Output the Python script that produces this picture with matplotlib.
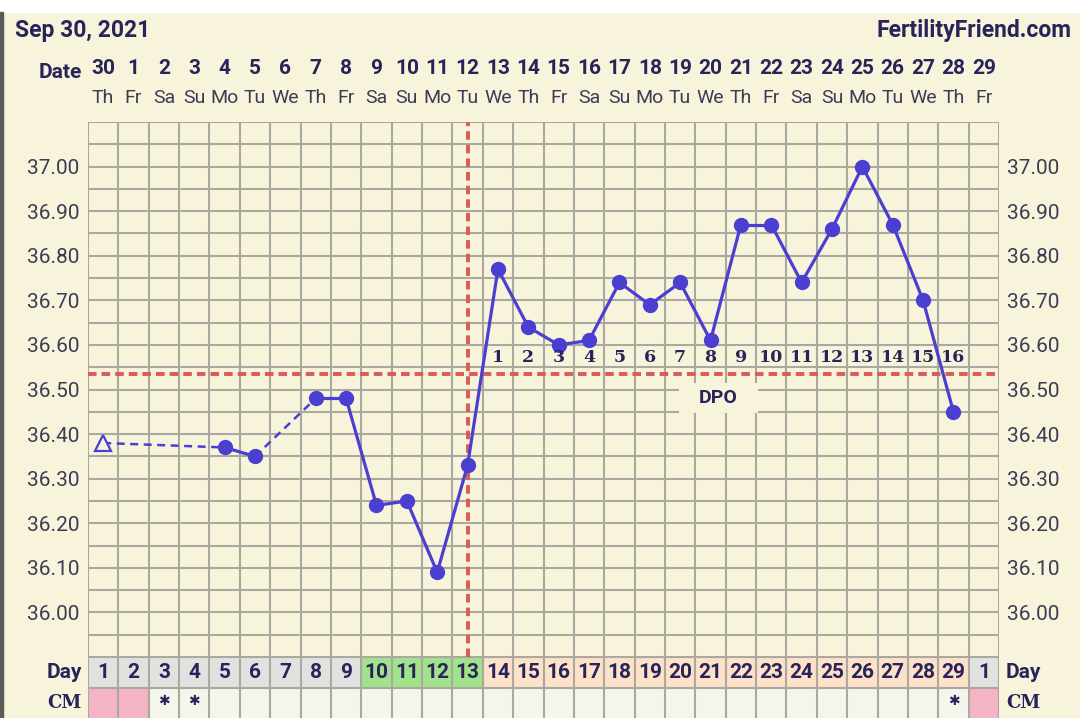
"""Fertility Friend style BBT chart, cycle starting Sep 30, 2021."""

import numpy as np
import matplotlib

matplotlib.use("Agg")
from matplotlib import patches, pyplot as plt
from matplotlib.transforms import blended_transform_factory

plt.rcParams["font.family"] = ["Roboto", "DejaVu Sans"]

# ---- data -----------------------------------------------------------------
dates = ["30", "1", "2", "3", "4", "5", "6", "7", "8", "9", "10", "11", "12",
         "13", "14", "15", "16", "17", "18", "19", "20", "21", "22", "23",
         "24", "25", "26", "27", "28", "29"]
weekdays = ["Th", "Fr", "Sa", "Su", "Mo", "Tu", "We", "Th", "Fr", "Sa", "Su",
            "Mo", "Tu", "We", "Th", "Fr", "Sa", "Su", "Mo", "Tu", "We", "Th",
            "Fr", "Sa", "Su", "Mo", "Tu", "We", "Th", "Fr"]
cycle_days = ["1", "2", "3", "4", "5", "6", "7", "8", "9", "10", "11", "12",
              "13", "14", "15", "16", "17", "18", "19", "20", "21", "22", "23",
              "24", "25", "26", "27", "28", "29", "1"]
temps = [36.38, None, None, None, 36.37, 36.35, None, 36.48, 36.48, 36.24,
         36.25, 36.09, 36.33, 36.77, 36.64, 36.60, 36.61, 36.74, 36.69, 36.74,
         36.61, 36.87, 36.87, 36.74, 36.86, 37.00, 36.87, 36.70, 36.45, None]
discarded_days = [1]
phases = (["other"] * 9 + ["fertile"] * 4 + ["luteal"] * 16 + ["other"])
cm_row = (["period", "period", "*", "*"] + [""] * 24 + ["*", "period"])
ovulation_day = 13
coverline = 36.535
dpo_labels = ["1", "2", "3", "4", "5", "6", "7", "8", "9", "10", "11", "12",
              "13", "14", "15", "16"]
temp_ticks = [36.00, 36.10, 36.20, 36.30, 36.40, 36.50, 36.60, 36.70, 36.80,
              36.90, 37.00]

# ---- styles ---------------------------------------------------------------
BG = "#f8f4dc"
GRID = "#aaa99f"
LINE = "#4b3fd2"
RED = "#dc5a55"
NAVY = "#28245a"
TICK = "#3d3b55"
PHASE_COLORS = {"other": "#e1e1df", "fertile": "#a2e28a", "luteal": "#fde1c8"}
CM_COLORS = {"period": "#f4b4c6"}
CM_PLAIN = "#f6f5ec"

W, H = 1080, 718
fig = plt.figure(figsize=(W / 100, H / 100), dpi=100)
fig.patch.set_facecolor(BG)
fig.patches.append(patches.Rectangle((0, 1 - 12 / H), 1, 12 / H,
                                     transform=fig.transFigure,
                                     color="white", zorder=0))
fig.patches.append(patches.Rectangle((0, 0), 3 / W, 1 - 12 / H,
                                     transform=fig.transFigure,
                                     color="#5a5a5a", zorder=0))

left, right = 88 / W, 999 / W
top_px, mid_px = 122, 657
ax = fig.add_axes([left, 1 - mid_px / H, right - left, (mid_px - top_px) / H])
ax.set_facecolor(BG)
n = len(dates)
days = np.arange(1, n + 1)
ax.set_xlim(0.5, n + 0.5)
ax.set_ylim(35.90, 37.10)
for s in ax.spines.values():
    s.set_visible(False)

# grid
for y in np.arange(35.90, 37.101, 0.05):
    ax.axhline(y, color=GRID, lw=1.5, zorder=1)
for x in np.arange(0.5, n + 1, 1.0):
    ax.axvline(x, color=GRID, lw=1.5, zorder=1)

ax.set_xticks([])
ax.set_yticks(temp_ticks)
ax.set_yticklabels([f"{t:.2f}" for t in temp_ticks])
ax.tick_params(axis="y", length=0, labelsize=15, labelcolor=TICK,
               labelleft=True, labelright=True, pad=6)

# coverline and ovulation line
ax.axhline(coverline, color=RED, lw=2.8, dashes=(2.2, 1.3), zorder=2)
ax.axvline(ovulation_day, color=RED, lw=2.8, dashes=(2.2, 1.3), zorder=2)

# temperatures
recorded = [(d, t) for d, t in zip(days, temps) if t is not None]
for (d0, t0), (d1, t1) in zip(recorded[:-1], recorded[1:]):
    solid = (d1 - d0 == 1) and d0 not in discarded_days
    if solid:
        ax.plot([d0, d1], [t0, t1], color=LINE, lw=2.3, zorder=3)
    else:
        ax.plot([d0, d1], [t0, t1], color=LINE, lw=1.8, dashes=(3.2, 2.2),
                zorder=3)
for d, t in recorded:
    if d in discarded_days:
        ax.plot(d, t, marker="^", ms=11, mfc=BG, mec=LINE, mew=1.6, zorder=4)
    else:
        ax.plot(d, t, marker="o", ms=10, color=LINE, zorder=4)

# DPO numbers
for i, lab in enumerate(dpo_labels):
    ax.text(ovulation_day + 1 + i, 36.572, lab, ha="center", va="center",
            fontsize=12.5, fontweight="bold", family="DejaVu Serif",
            color=NAVY, zorder=5)
# cream label box sitting just under the coverline
ax.add_patch(patches.Rectangle((19.95, 36.448), 2.6, 0.066, fc=BG,
                               ec="none", zorder=1.5))
ax.text(21.25, 36.482, "DPO", ha="center", va="center", fontsize=14,
        fontweight="bold", color=NAVY, zorder=5)

# header
tr = blended_transform_factory(ax.transData, fig.transFigure)
fig.text(15 / W, 1 - 30 / H, "Sep 30, 2021", ha="left", va="center",
         fontsize=16.5, fontweight="bold", color=NAVY)
fig.text(1072 / W, 1 - 30 / H, "FertilityFriend.com", ha="right",
         va="center", fontsize=16.5, fontweight="bold", color=NAVY)
fig.text(82 / W, 1 - 73 / H, "Date", ha="right", va="center", fontsize=15,
         fontweight="bold", color=NAVY)
for d, lab, wd in zip(days, dates, weekdays):
    ax.text(d, 1 - 68 / H, lab, transform=tr, ha="center", va="center",
            fontsize=15, fontweight="bold", color=NAVY)
    ax.text(d, 1 - 98 / H, wd, transform=tr, ha="center", va="center",
            fontsize=14, color=TICK)

# day / CM table
tax = fig.add_axes([left, 0, right - left, (H - mid_px) / H])
tax.set_xlim(0.5, n + 0.5)
tax.set_ylim(0, 2)
tax.axis("off")
for d, ph, cm, lab in zip(days, phases, cm_row, cycle_days):
    tax.add_patch(patches.Rectangle((d - 0.5, 1), 1, 1,
                                    fc=PHASE_COLORS[ph], ec="none"))
    tax.add_patch(patches.Rectangle((d - 0.5, 0), 1, 1,
                                    fc=CM_COLORS.get(cm, CM_PLAIN), ec="none"))
    tax.text(d, 1.5, lab, ha="center", va="center", fontsize=15,
             fontweight="bold", color=NAVY)
    if cm == "*":
        tax.text(d, 0.55, "\u2731", ha="center", va="center", fontsize=10,
                 family="DejaVu Sans", color=NAVY)
for x in np.arange(0.5, n + 1, 1.0):
    tax.plot([x, x], [0, 2], color=GRID, lw=1.5)
for y in (1, 2):
    tax.plot([0.5, n + 0.5], [y, y], color=GRID, lw=1.5)
tax.text(-6 / 911, 0.75, "Day", transform=tax.transAxes, ha="right",
         va="center", fontsize=15, fontweight="bold", color=NAVY)
tax.text(1 + 7 / 911, 0.75, "Day", transform=tax.transAxes, ha="left",
         va="center", fontsize=15, fontweight="bold", color=NAVY)
tax.text(-6 / 911, 0.25, "CM", transform=tax.transAxes, ha="right",
         va="center", fontsize=13, fontweight="bold", family="DejaVu Serif",
         color=NAVY)
tax.text(1 + 7 / 911, 0.25, "CM", transform=tax.transAxes, ha="left",
         va="center", fontsize=13, fontweight="bold", family="DejaVu Serif",
         color=NAVY)

fig.savefig("out.png", dpi=100, facecolor=BG)
